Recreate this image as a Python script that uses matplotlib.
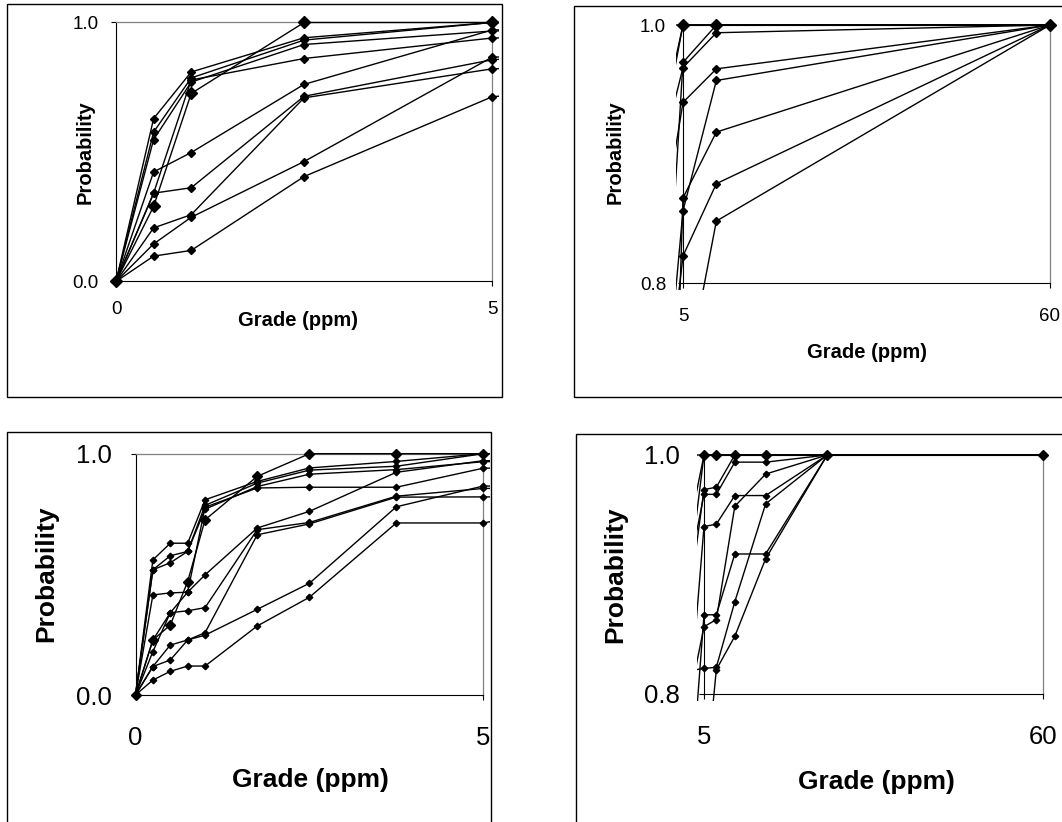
import matplotlib
matplotlib.use('Agg')
from matplotlib import pyplot as plt
from matplotlib.patches import Rectangle
from matplotlib.transforms import Bbox, TransformedBbox

plt.rcParams['font.family'] = ['Liberation Sans', 'DejaVu Sans']

# grade cut-offs (ppm) used by the lower two panels
grades = [0, 0.25, 0.5, 0.75, 1, 1.75, 2.5, 3.75, 5, 7, 10, 15, 25, 60]
# the upper two panels only use these cut-offs
coarse_grades = [0, 0.5, 1, 2.5, 5, 10, 60]

# cumulative probability at each grade, one list per curve
mean_curve = [0, 0.228, 0.290, 0.470, 0.726, 0.906, 1.0, 1.0, 1.0, 1.0, 1.0, 1.0, 1.0, 1.0]
curve_1 = [0, 0.560, 0.629, 0.629, 0.809, 0.885, 0.941, 0.968, 1.0, 1.0, 1.0, 1.0, 1.0, 1.0]
curve_2 = [0, 0.519, 0.577, 0.595, 0.786, 0.878, 0.932, 0.948, 1.0, 1.0, 1.0, 1.0, 1.0, 1.0]
curve_3 = [0, 0.519, 0.548, 0.595, 0.770, 0.864, 0.915, 0.934, 0.967, 0.967, 0.994, 0.994, 1.0, 1.0]
curve_4 = [0, 0.180, 0.341, 0.426, 0.778, 0.858, 0.861, 0.861, 0.940, 0.942, 0.966, 0.966, 1.0, 1.0]
curve_5 = [0, 0.415, 0.423, 0.426, 0.498, 0.692, 0.761, 0.923, 0.971, 0.973, 1.0, 1.0, 1.0, 1.0]
curve_6 = [0, 0.228, 0.341, 0.349, 0.362, 0.685, 0.715, 0.824, 0.856, 0.862, 0.957, 0.984, 1.0, 1.0]
curve_7 = [0, 0.118, 0.207, 0.228, 0.258, 0.664, 0.709, 0.820, 0.821, 0.822, 0.877, 0.959, 1.0, 1.0]
curve_8 = [0, 0.118, 0.145, 0.228, 0.248, 0.355, 0.463, 0.780, 0.866, 0.866, 0.917, 0.917, 1.0, 1.0]
curve_9 = [0, 0.062, 0.098, 0.120, 0.120, 0.286, 0.405, 0.713, 0.713, 0.820, 0.848, 0.913, 1.0, 1.0]

small_curves = [curve_1, curve_2, curve_3, curve_4, curve_5, curve_6, curve_7, curve_8, curve_9]

W, H = 1062, 822
fig = plt.figure(figsize=(W / 100, H / 100), dpi=100)


def frac_rect(x0, y0, x1, y1):
    return [x0 / W, 1 - y1 / H, (x1 - x0) / W, (y1 - y0) / H]


def box(x0, y0, x1, y1):
    fig.patches.append(Rectangle((x0 / W, 1 - y1 / H), (x1 - x0) / W, (y1 - y0) / H,
                                 transform=fig.transFigure, fill=False, ec='k', lw=1.0))


def draw_panel(area, xs, curves, xlim, ylim, ms_small, ms_big, tick_size, xpad, ypad):
    ax = fig.add_axes(frac_rect(*area))
    ax.set_facecolor('none')
    ax.set_xlim(xlim)
    ax.set_ylim(ylim)
    w_px = area[2] - area[0]
    h_px = area[3] - area[1]
    # excel lets the lines run a few pixels past the plot area
    m = 7
    clip = TransformedBbox(Bbox.from_extents(-m / w_px, -m / h_px, 1 + m / w_px, 1 + m / h_px),
                           ax.transAxes)

    series = [(c, ms_small) for c in curves[:-1]] + [(curves[-1], ms_big)]
    for ys, size in series:
        line, = ax.plot(xs, ys, color='k', lw=1.0, zorder=3)
        line.set_clip_box(clip)
        px = [x for x, y in zip(xs, ys) if xlim[0] <= x <= xlim[1] and ylim[0] <= y <= ylim[1]]
        py = [y for x, y in zip(xs, ys) if xlim[0] <= x <= xlim[1] and ylim[0] <= y <= ylim[1]]
        ax.plot(px, py, ls='none', marker='D', ms=size, color='k', zorder=3, clip_on=False)

    ax.set_xticks(list(xlim))
    ax.set_xticklabels([f'{v:g}' for v in xlim])
    ax.set_yticks(list(ylim))
    ax.set_yticklabels([f'{v:.1f}' for v in ylim])
    for s in ['left', 'bottom']:
        ax.spines[s].set_color('k')
        ax.spines[s].set_linewidth(0.8)
    for s in ['top', 'right']:
        ax.spines[s].set_color('#808080')
        ax.spines[s].set_linewidth(0.9)
    ax.tick_params(axis='both', direction='out', length=3.6, width=0.8, color='k',
                   labelsize=tick_size)
    ax.tick_params(axis='x', pad=xpad)
    ax.tick_params(axis='y', pad=ypad)
    return ax


coarse_idx = [grades.index(g) for g in coarse_grades]
all_curves = small_curves + [mean_curve]
coarse_curves = [[c[i] for i in coarse_idx] for c in all_curves]

# chart area borders
box(7, 4, 502, 397)
box(573.5, 6, 1075, 397)
box(7, 432, 491, 830)
box(576, 434, 1075, 830)

draw_panel((116, 22.5, 492, 281.5), coarse_grades, coarse_curves, (0, 5), (0.0, 1.0),
           3.6, 6.0, 13.5, 10.8, 8.9)
draw_panel((683, 25, 1050, 283), coarse_grades, coarse_curves, (5, 60), (0.8, 1.0),
           3.6, 6.0, 13.5, 14.4, 8.6)
draw_panel((135.5, 453.7, 483.3, 695), grades, all_curves, (0, 5), (0.0, 1.0),
           3.3, 5.5, 18.5, 18.6, 13.3)
draw_panel((704, 455, 1043, 693.5), grades, all_curves, (5, 60), (0.8, 1.0),
           3.3, 5.5, 18.5, 18.8, 13.7)

labels = [
    (85, 152, 'Probability', 90, 14.5),
    (298, 320, 'Grade (ppm)', 0, 14.5),
    (615, 152, 'Probability', 90, 14.5),
    (867, 352, 'Grade (ppm)', 0, 14.5),
    (46, 574, 'Probability', 90, 19),
    (310, 780, 'Grade (ppm)', 0, 19),
    (615, 575, 'Probability', 90, 19),
    (876, 782, 'Grade (ppm)', 0, 19),
]
for x, y, txt, rot, size in labels:
    fig.text(x / W, 1 - y / H, txt, rotation=rot, ha='center', va='center',
             fontsize=size, fontweight='bold')

fig.savefig('out.png', dpi=100)
